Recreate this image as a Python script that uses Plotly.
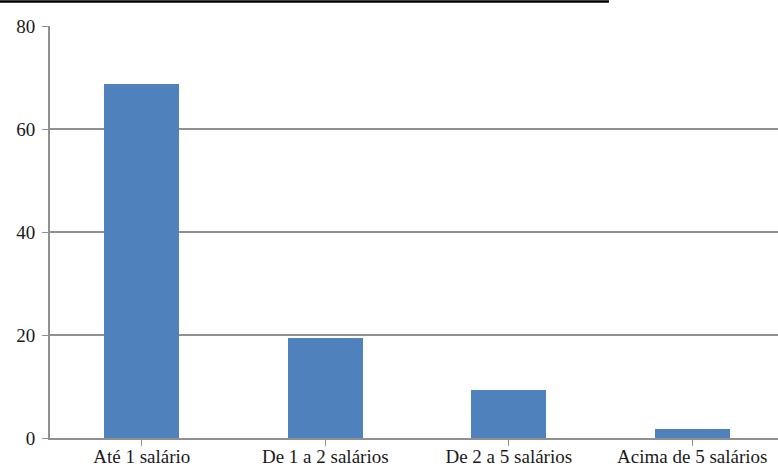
import plotly.graph_objects as go

categories = ["Até 1 salário", "De 1 a 2 salários", "De 2 a 5 salários", "Acima de 5 salários"]
values = [68.7, 19.4, 9.3, 1.7]
y_ticks = [0, 20, 40, 60, 80]

W, H = 778, 470
ML, MR, MT, MB = 50, 0, 26, 32
plot_w = W - ML - MR
plot_h = H - MT - MB

fig = go.Figure(
    go.Bar(
        x=list(range(len(categories))),
        y=values,
        width=0.41,
        marker=dict(color="#4F81BD", line=dict(width=0)),
    )
)

font_family = "Liberation Serif, Times New Roman, serif"
axis_grey = "#909090"

fig.update_layout(
    width=W,
    height=H,
    margin=dict(l=ML, r=MR, t=MT, b=MB, pad=0, autoexpand=False),
    paper_bgcolor="white",
    plot_bgcolor="white",
    showlegend=False,
    font=dict(family=font_family, size=19, color="#1a1a1a"),
    bargap=0,
)

fig.update_xaxes(
    range=[-0.5, 3.467],
    tickmode="array",
    tickvals=list(range(len(categories))),
    ticktext=categories,
    tickson="boundaries",
    ticks="outside",
    ticklen=6,
    tickcolor=axis_grey,
    showline=True,
    linecolor=axis_grey,
    linewidth=2,
    showgrid=False,
    zeroline=False,
    automargin=False,
    ticklabelstandoff=-6,
    tickfont=dict(family=font_family, size=19, color="#1a1a1a"),
)

fig.update_yaxes(
    range=[0, 80],
    tickmode="array",
    tickvals=y_ticks,
    ticks="outside",
    ticklen=6,
    tickcolor=axis_grey,
    showline=True,
    linecolor=axis_grey,
    linewidth=2,
    showgrid=True,
    gridcolor=axis_grey,
    gridwidth=2,
    zeroline=False,
    automargin=False,
    ticklabelstandoff=3,
    tickfont=dict(family=font_family, size=19, color="#1a1a1a"),
)

# thin black rule across the top of the page
fig.add_shape(
    type="line",
    xref="paper",
    yref="paper",
    x0=-ML / plot_w,
    x1=(609 - ML) / plot_w,
    y0=(H - MB - 1.5) / plot_h,
    y1=(H - MB - 1.5) / plot_h,
    line=dict(color="black", width=2.5),
)

fig.write_html("out.html")
